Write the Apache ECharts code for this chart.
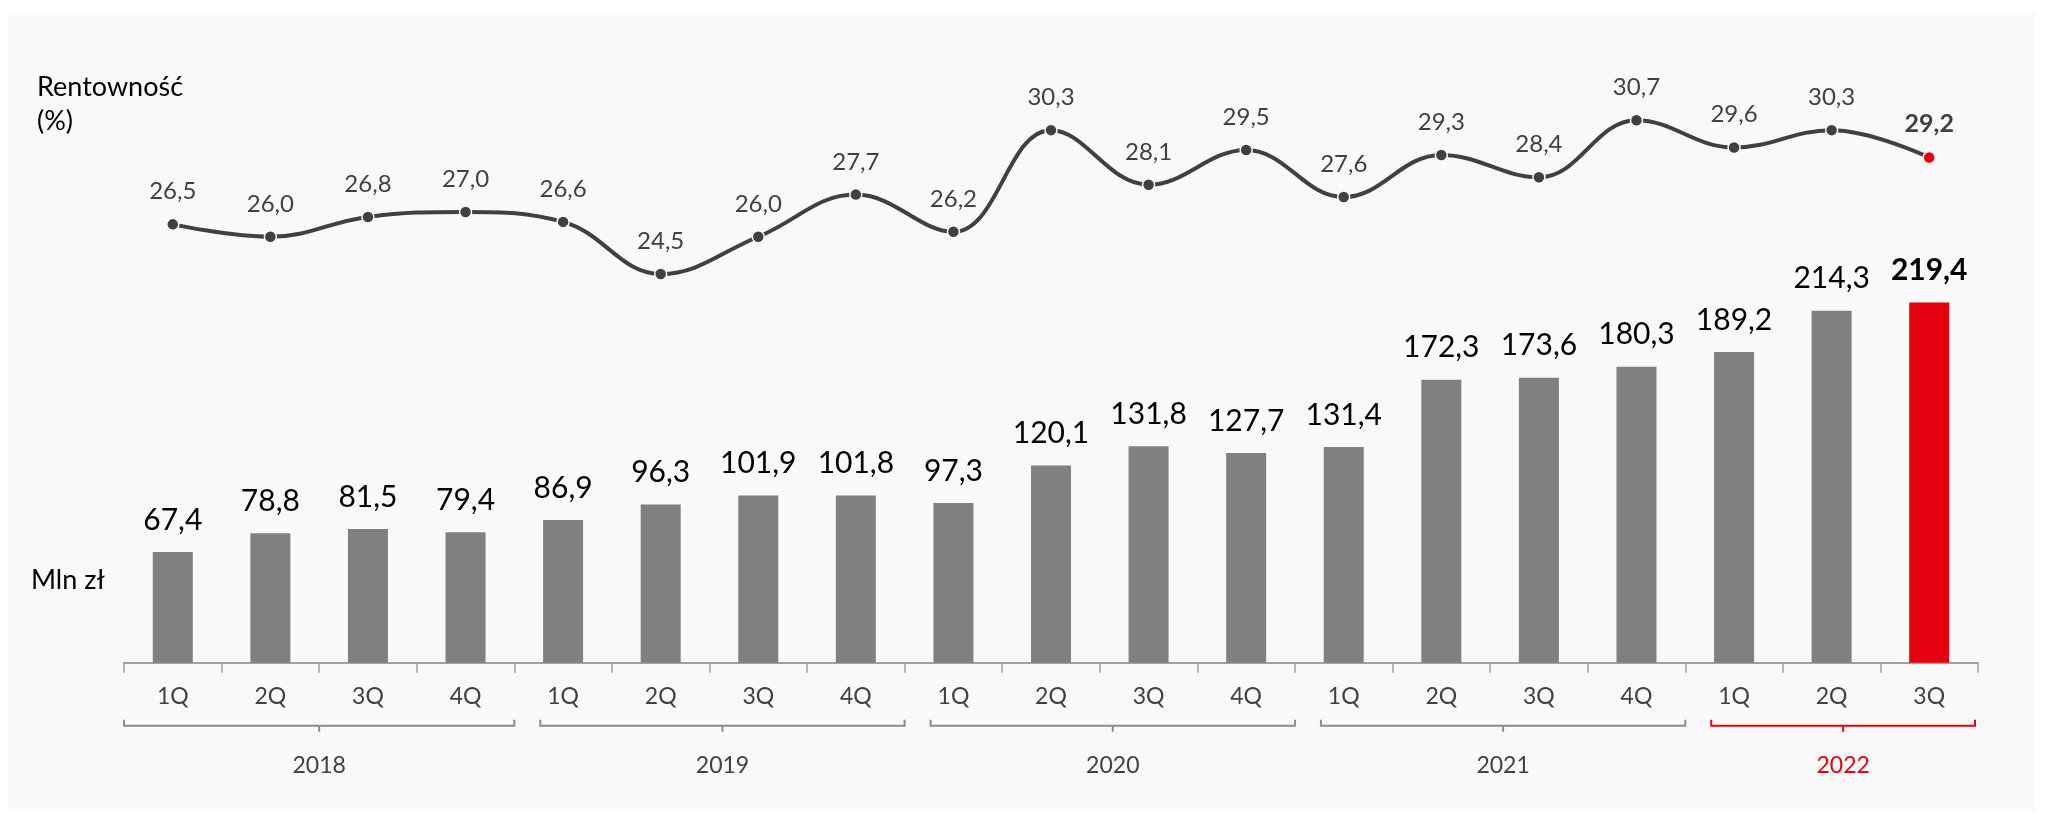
<!DOCTYPE html>
<html>
<head>
<meta charset="utf-8">
<script src="https://cdn.jsdelivr.net/npm/echarts@6/dist/echarts.min.js"></script>
<style>
  html, body { margin: 0; padding: 0; background: #ffffff; }
  #panel { position: absolute; left: 8px; top: 13px; width: 2027px; height: 798px; background: #f9f9f9; }
  #chart { position: absolute; left: 0; top: 0; width: 2045px; height: 821px; }
</style>
</head>
<body>
<div id="panel"></div>
<div id="chart"></div>
<script>
// ---- data ----
const quarters = ['1Q','2Q','3Q','4Q','1Q','2Q','3Q','4Q','1Q','2Q','3Q','4Q','1Q','2Q','3Q','4Q','1Q','2Q','3Q'];
const profitability = [26.5, 26.0, 26.8, 27.0, 26.6, 24.5, 26.0, 27.7, 26.2, 30.3, 28.1, 29.5, 27.6, 29.3, 28.4, 30.7, 29.6, 30.3, 29.2];
const profitMln = [67.4, 78.8, 81.5, 79.4, 86.9, 96.3, 101.9, 101.8, 97.3, 120.1, 131.8, 127.7, 131.4, 172.3, 173.6, 180.3, 189.2, 214.3, 219.4];
const years = ['2018', '2019', '2020', '2021', '2022'];
const yearStart = [0, 4, 8, 12, 16];
const yearEnd = [3, 7, 11, 15, 18];

const GREY = '#808080';
const DARK = '#404040';
const RED = '#e3000f';
const FONT = 'Lato, "Open Sans", sans-serif';
const last = quarters.length - 1;
const fmt = v => Number(v).toFixed(1).replace('.', ',');

const lineData = profitability.map((v, i) => i === last
  ? { value: v, itemStyle: { color: RED }, label: { fontWeight: 'bold', fontSize: 25 } }
  : v);
const barData = profitMln.map((v, i) => i === last
  ? { value: v, itemStyle: { color: RED }, label: { fontWeight: 'bold' } }
  : v);
const bracketData = years.map((y, i) => [yearStart[i], yearEnd[i], y]);

const chart = echarts.init(document.getElementById('chart'), null, { renderer: 'canvas' });
chart.setOption({
  backgroundColor: 'transparent',
  animation: false,
  textStyle: { fontFamily: FONT },
  graphic: [
    { type: 'text', left: 37, top: 70, style: { text: 'Rentowność\n(%)', font: '27px ' + FONT, fill: '#000', lineHeight: 34 } },
    { type: 'text', left: 31, top: 567, style: { text: 'Mln zł', font: '27px ' + FONT, fill: '#000' } }
  ],
  grid: [
    { left: 124, right: 67, top: 88, bottom: 435.5 },
    { left: 124, right: 67, top: 252.2, bottom: 158.3 }
  ],
  xAxis: [
    { type: 'category', gridIndex: 0, data: quarters, show: false },
    {
      type: 'category', gridIndex: 1, data: quarters,
      axisLine: { lineStyle: { color: '#a0a0a0', width: 2 } },
      axisTick: { show: true, length: 10, lineStyle: { color: '#a0a0a0', width: 1.5 } },
      axisLabel: { color: DARK, fontSize: 23, margin: 22, fontFamily: FONT }
    }
  ],
  yAxis: [
    { type: 'value', gridIndex: 0, min: 20, max: 32, show: false },
    { type: 'value', gridIndex: 1, min: 0, max: 250, show: false }
  ],
  series: [
    {
      type: 'line', xAxisIndex: 0, yAxisIndex: 0, data: lineData,
      smooth: 0.4,
      symbol: 'circle', symbolSize: 12,
      lineStyle: { color: DARK, width: 4 },
      itemStyle: { color: DARK, borderColor: '#f9f9f9', borderWidth: 1.5 },
      label: { show: true, position: 'top', distance: 14, color: DARK, fontSize: 24, fontFamily: FONT, formatter: p => fmt(p.value) },
      z: 3
    },
    {
      type: 'bar', xAxisIndex: 1, yAxisIndex: 1, data: barData,
      barWidth: '41%',
      itemStyle: { color: GREY },
      label: { show: true, position: 'top', distance: 17, color: '#000', fontSize: 30, fontFamily: FONT, formatter: p => fmt(p.value) }
    },
    {
      type: 'custom', xAxisIndex: 1, yAxisIndex: 1, data: bracketData,
      clip: false, silent: true,
      encode: { x: [0, 1] },
      renderItem: function (params, api) {
        const i = params.dataIndex;
        const s = api.coord([api.value(0), 0]);
        const e = api.coord([api.value(1), 0]);
        const band = api.size([1, 0])[0];
        const x0 = s[0] - band / 2 + (i === 0 ? 0 : 26);
        const x1 = e[0] + band / 2 - (i === years.length - 1 ? 3 : 0);
        const y = s[1] + 63;
        const xm = (x0 + x1) / 2;
        const col = i === years.length - 1 ? RED : '#8c8c8c';
        return {
          type: 'group',
          children: [
            { type: 'polyline', shape: { points: [[x0, y - 6], [x0, y], [x1, y], [x1, y - 6]] }, style: { stroke: col, lineWidth: 2, fill: null } },
            { type: 'line', shape: { x1: xm, y1: y, x2: xm, y2: y + 6 }, style: { stroke: col, lineWidth: 2 } },
            { type: 'text', x: xm, y: y + 40, style: { text: api.value(2), fill: i === years.length - 1 ? RED : DARK, font: '23px ' + FONT, align: 'center', verticalAlign: 'middle' } }
          ]
        };
      }
    }
  ]
});
</script>
</body>
</html>
